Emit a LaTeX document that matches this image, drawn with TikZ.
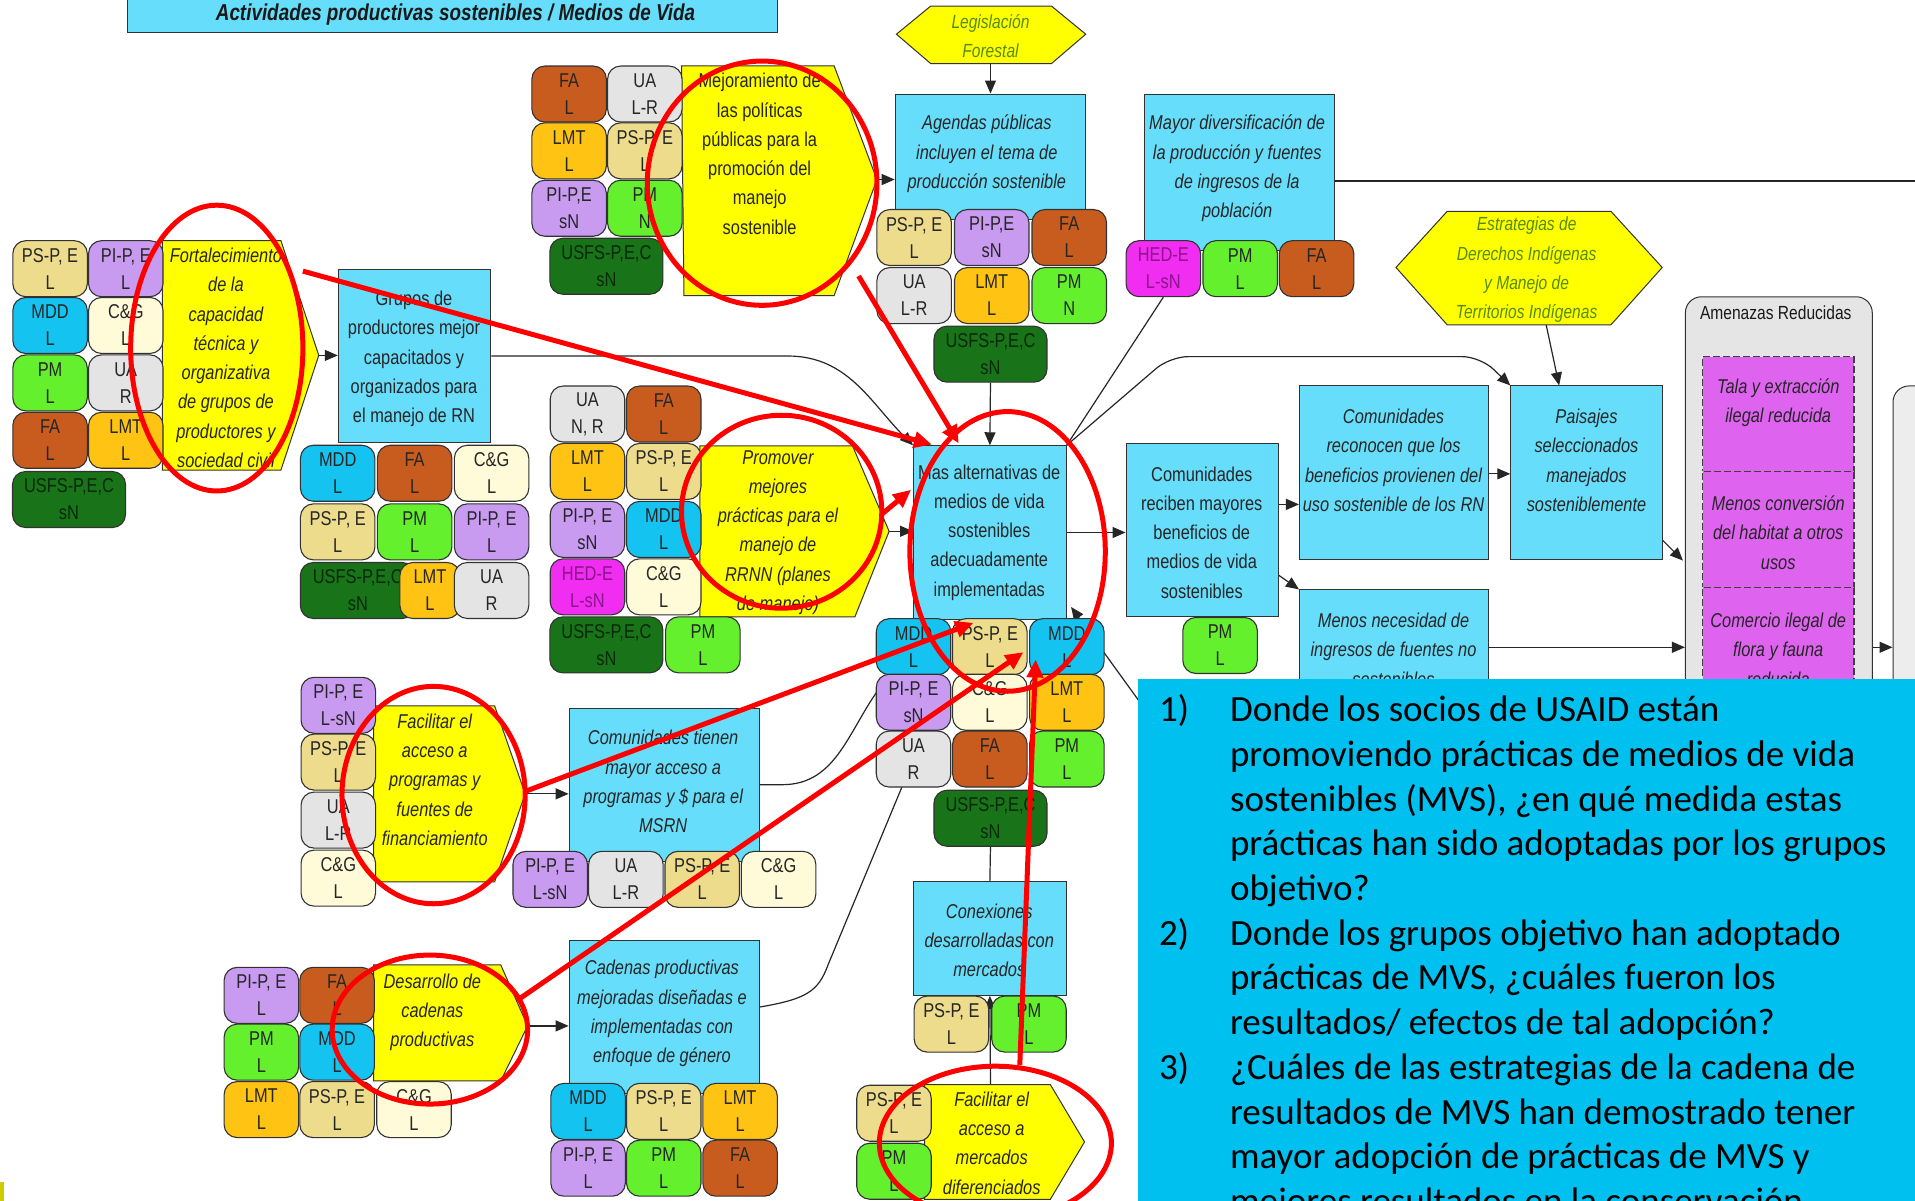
\documentclass[tikz,border=0pt]{standalone}
\usepackage{fontspec}
\setmainfont{Liberation Sans}
\newfontfamily\nar[FakeStretch=0.82]{Liberation Sans}
\newfontfamily\qfont{Carlito}
\usetikzlibrary{arrows.meta,calc,shapes.geometric}
\definecolor{boxblue}{RGB}{102,221,250}
\definecolor{qblue}{RGB}{0,192,240}
\definecolor{cPS}{RGB}{236,220,140}
\definecolor{cPI}{RGB}{200,155,240}
\definecolor{cMDD}{RGB}{20,195,240}
\definecolor{cCG}{RGB}{255,250,215}
\definecolor{cPM}{RGB}{100,240,45}
\definecolor{cUA}{RGB}{228,228,228}
\definecolor{cFA}{RGB}{200,92,30}
\definecolor{cLMT}{RGB}{255,195,20}
\definecolor{cUSFS}{RGB}{25,115,25}
\definecolor{cUSFSt}{RGB}{10,40,10}
\definecolor{cHED}{RGB}{240,45,240}
\definecolor{cHEDt}{RGB}{140,20,140}
\definecolor{cYel}{RGB}{255,255,0}
\definecolor{cGreenTxt}{RGB}{85,140,10}
\definecolor{cPurp}{RGB}{222,100,240}
\definecolor{cGray}{RGB}{229,229,229}
\definecolor{cRed}{RGB}{255,0,0}
\definecolor{edge}{RGB}{50,50,50}
\pgfdeclarelayer{bg}
\pgfdeclarelayer{redl}
\pgfdeclarelayer{top}
\pgfsetlayers{bg,main,redl,top}
\tikzset{
 tagn/.style={draw=edge, line width=1.1pt, rounded corners=13pt, minimum width=74.5pt, minimum height=56pt, inner sep=0pt, align=center, font=\nar\fontsize{20}{27}\selectfont, text=black!85},
 wide/.style={minimum width=113pt},
 box/.style={draw=edge, line width=1pt, fill=boxblue, inner sep=0pt},
 btxt/.style={align=center, font=\nar\itshape\fontsize{20}{29.3}\selectfont, text=black!85, inner sep=0pt},
 rtxt/.style={align=center, font=\nar\fontsize{20}{29.3}\selectfont, text=black!85, inner sep=0pt},
 pent/.style={draw=edge, line width=1pt, fill=cYel},
 hexs/.style={draw=edge, line width=1pt, fill=cYel},
 htxt/.style={align=center, inner sep=0pt, text=cGreenTxt, font=\nar\itshape\fontsize{19}{29.3}\selectfont},
 conn/.style={draw=black!85, line width=1.2pt},
 arr/.style={conn, -{Triangle[length=13pt,width=11pt]}},
 redell/.style={draw=cRed, line width=5pt, ellipse, inner sep=0pt},
 reda/.style={draw=cRed, line width=5pt, -{Triangle[length=18pt,width=16pt]}},
 qtxt/.style={font=\qfont\fontsize{37}{44.6}\selectfont, inner sep=0pt, text=black, anchor=base west},
}
\newcommand\bx[6][]{\node[box,#1,minimum width={(#5-(#3))*1.2213pt},minimum height={(#6-(#4))*1.2213pt}] (#2) at ({(#3+#5)/2},{(#4+#6)/2}) {};}
\newcommand\tg[6][]{\node[tagn,fill=#5,#1] (#2) at (#3,#4) {#6};}
\begin{document}
\begin{tikzpicture}[x=1.2213pt,y=-1.2213pt]
\useasboundingbox (0,0) rectangle (1568,983);
\begin{pgfonlayer}{bg}
\fill[white] (0,0) rectangle (1568,983);
\end{pgfonlayer}
\fill[cYel!80!black] (0,968) rectangle (3,983);
% ---------- title
\bx{title}{104}{-10}{637}{27}
\node[font=\nar\bfseries\itshape\fontsize{23}{28}\selectfont, text=black!90, inner sep=0pt] (titlet) at (373,12) {Actividades productivas sostenibles / Medios de Vida};
% ---------- Legislacion
\draw[hexs] (734,28) -- (762,5) -- (861,5) -- (889,28) -- (861,52) -- (762,52) -- cycle;
\node[htxt] (legist) at (811,29.5) {Legislación\\Forestal};
\coordinate (legisb) at (811,52);
% ---------- Agendas
\bx{agendas}{733}{77}{889}{180}
\node[btxt] (agendast) at (808,126) {Agendas públicas\\incluyen el tema de\\producción sostenible};
% ---------- Mejoramiento
\draw[pent] (558,54) -- (683,54) -- (718,147) -- (683,242) -- (560,242) -- cycle;
\node[rtxt] (mejt) at (622,126) {Mejoramiento de\\las políticas\\públicas para la\\promoción del\\manejo\\sostenible};
\coordinate (mejtip) at (718,147);
% ---------- Mayor
\bx{mayor}{937}{77}{1093}{205}
\node[btxt] (mayort) at (1013,138) {Mayor diversificación de\\la producción y fuentes\\de ingresos de la\\población};
\coordinate (mayr) at (1580,148);
% ---------- Estrategias
\draw[hexs] (1143,219) -- (1185,173) -- (1319,173) -- (1361,219) -- (1319,266) -- (1185,266) -- cycle;
\node[htxt] (estt) at (1250,221) {Estrategias de\\Derechos Indígenas\\y Manejo de\\Territorios Indígenas};
\coordinate (estb) at (1266,266);
% ---------- Fortalecimiento
\draw[pent] (133,197) -- (230,197) -- (261,291) -- (230,385) -- (133,385) -- cycle;
\node[btxt] (fortt) at (185,293) {Fortalecimiento\\de la\\capacidad\\técnica y\\organizativa\\de grupos de\\productores y\\sociedad civil};
\coordinate (forttip) at (261,291);
% ---------- Grupos
\bx{grupos}{277}{221}{402}{362}
\node[rtxt] (grupost) at (339,294) {Grupos de\\productores mejor\\capacitados y\\organizados para\\el manejo de RN};
% ---------- Promover
\draw[pent] (573,365) -- (698,365) -- (728,435) -- (700,505) -- (573,505) -- cycle;
\node[btxt] (promt) at (637,436) {Promover\\mejores\\prácticas para el\\manejo de\\RRNN (planes\\de manejo)};
\coordinate (promtip) at (728,435);
% ---------- Mas alternativas
\bx{mas}{748}{365}{873}{507}
\node[rtxt] (mast) at (810,436) {Mas alternativas de\\medios de vida\\sostenibles\\adecuadamente\\implementadas};
% ---------- Comunidades reciben
\bx{reciben}{922}{363}{1047}{505}
\node[rtxt] (recibent) at (984,436) {Comunidades\\reciben mayores\\beneficios de\\medios de vida\\sostenibles};
% ---------- reconocen
\bx{reconocen}{1064}{316}{1219}{458}
\node[btxt] (reconocent) at (1141,377) {Comunidades\\reconocen que los\\beneficios provienen del\\uso sostenible de los RN};
% ---------- Paisajes
\bx{paisajes}{1237}{316}{1361}{458}
\node[btxt] (paisajest) at (1299,377) {Paisajes\\seleccionados\\manejados\\sosteniblemente};
% ---------- Menos necesidad
\bx{menos}{1064}{483}{1219}{700}
\node[btxt] (menost) at (1141,532) {Menos necesidad de\\ingresos de fuentes no\\sostenibles};
% ---------- Amenazas
\bx[fill=cGray, rounded corners=16pt]{amen}{1380}{243}{1533}{1010}
\node[rtxt, font=\nar\fontsize{19}{29.3}\selectfont, text=black!90] (ament) at (1454,256) {Amenazas Reducidas};
\bx[fill=cPurp, draw=black!75, dash pattern=on 7pt off 3pt, line width=1.4pt]{th1}{1394}{292}{1518}{386}
\bx[fill=cPurp, draw=black!75, dash pattern=on 7pt off 3pt, line width=1.4pt]{th2}{1394}{386}{1518}{481}
\bx[fill=cPurp, draw=black!75, dash pattern=on 7pt off 3pt, line width=1.4pt]{th3}{1394}{481}{1518}{1010}
\node[btxt] (th1t) at (1456,329.5) {Tala y extracción\\ilegal reducida};
\node[btxt] (th2t) at (1456,436) {Menos conversión\\del habitat a otros\\usos};
\node[btxt] (th3t) at (1456,532) {Comercio ilegal de\\flora y fauna\\reducida};
\bx[fill=white!93!black, rounded corners=16pt]{rightc}{1550}{316}{1650}{1010}
% ---------- Financiamiento
\draw[pent] (306,578) -- (405,578) -- (430,650) -- (405,722) -- (306,722) -- cycle;
\node[btxt] (fint) at (356,638.5) {Facilitar el\\acceso a\\programas y\\fuentes de\\financiamiento};
\coordinate (fintip) at (430,650);
\bx{tienen}{466}{580}{622}{705}
\node[btxt] (tienent) at (543,640) {Comunidades tienen\\mayor acceso a\\programas y \$ para el\\MSRN};
% ---------- Desarrollo / Cadenas
\draw[pent] (306,790) -- (410,790) -- (432,840) -- (410,885) -- (306,885) -- cycle;
\node[btxt] (dest) at (354,829) {Desarrollo de\\cadenas\\productivas};
\coordinate (destip) at (432,840);
\bx{cadenas}{466}{770}{622}{895}
\node[btxt] (cadenast) at (542,830) {Cadenas productivas\\mejoradas diseñadas e\\implementadas con\\enfoque de género};
% ---------- Conexiones / mercados
\bx{conex}{748}{722}{873}{815}
\node[btxt] (conext) at (810,770) {Conexiones\\desarrolladas con\\mercados};
\draw[pent] (757,888) -- (860,888) -- (888,935) -- (860,982) -- (757,982) -- cycle;
\node[btxt] (mert) at (812,936) {Facilitar el\\acceso a\\mercados\\diferenciados};
\coordinate (mertop) at (811,888);
% ---------- tags
\tg{f1}{41}{220}{cPS}{PS-P, E\\L}
\tg{f2}{103}{220}{cPI}{PI-P, E\\L}
\tg{f3}{41}{266.5}{cMDD}{MDD\\L}
\tg{f4}{103}{266.5}{cCG}{C\&G\\L}
\tg{f5}{41}{313.5}{cPM}{PM\\L}
\tg{f6}{103}{313.5}{cUA}{UA\\R}
\tg{f7}{41}{360.5}{cFA}{FA\\L}
\tg{f8}{103}{360.5}{cLMT}{LMT\\L}
\tg[wide,text=cUSFSt]{f9}{56.5}{409}{cUSFS}{USFS-P,E,C\\sN}
\tg{m1}{466}{77}{cFA}{FA\\L}
\tg{m2}{528}{77}{cUA}{UA\\L-R}
\tg{m3}{466}{123.5}{cLMT}{LMT\\L}
\tg{m4}{528}{123.5}{cPS}{PS-P, E\\L}
\tg{m5}{466}{170.5}{cPI}{PI-P,E\\sN}
\tg{m6}{528}{170.5}{cPM}{PM\\N}
\tg[wide,text=cUSFSt]{m7}{496.5}{218}{cUSFS}{USFS-P,E,C\\sN}
\tg{a1}{748.5}{194.5}{cPS}{PS-P, E\\L}
\tg{a2}{812}{194.5}{cPI}{PI-P,E\\sN}
\tg{a3}{875.5}{194.5}{cFA}{FA\\L}
\tg{a4}{748.5}{242}{cUA}{UA\\L-R}
\tg{a5}{812}{242}{cLMT}{LMT\\L}
\tg{a6}{875.5}{242}{cPM}{PM\\N}
\tg[wide,text=cUSFSt]{a7}{811}{290}{cUSFS}{USFS-P,E,C\\sN}
\tg[text=cHEDt]{d1}{952.5}{220}{cHED}{HED-E\\L-sN}
\tg{d2}{1015.5}{220}{cPM}{PM\\L}
\tg{d3}{1078}{220}{cFA}{FA\\L}
\tg{g1}{276.5}{387.5}{cMDD}{MDD\\L}
\tg{g2}{339.5}{387.5}{cFA}{FA\\L}
\tg{g3}{402.5}{387.5}{cCG}{C\&G\\L}
\tg{g4}{276.5}{435.5}{cPS}{PS-P, E\\L}
\tg{g5}{339.5}{435.5}{cPM}{PM\\L}
\tg{g6}{402.5}{435.5}{cPI}{PI-P, E\\L}
\tg[minimum width=115pt,text=cUSFSt]{g7}{293}{483.5}{cUSFS}{USFS-P,E,C\\sN}
\tg[minimum width=60pt]{g8}{352}{483.5}{cLMT}{LMT\\L}
\tg{g9}{402.5}{483.5}{cUA}{UA\\R}
\tg{p1}{481}{339}{cUA}{UA\\N, R}
\tg{p2}{543.5}{339}{cFA}{FA\\L}
\tg{p3}{481}{386}{cLMT}{LMT\\L}
\tg{p4}{543.5}{386}{cPS}{PS-P, E\\L}
\tg{p5}{481}{433.5}{cPI}{PI-P, E\\sN}
\tg{p6}{543.5}{433.5}{cMDD}{MDD\\L}
\tg[text=cHEDt]{p7}{481}{480.5}{cHED}{HED-E\\L-sN}
\tg{p8}{543.5}{480.5}{cCG}{C\&G\\L}
\tg[wide,text=cUSFSt]{p9}{496.5}{528}{cUSFS}{USFS-P,E,C\\sN}
\tg{p10}{575.5}{528}{cPM}{PM\\L}
\tg{x1}{748}{529.5}{cMDD}{MDD\\L}
\tg{x2}{810.5}{529.5}{cPS}{PS-P, E\\L}
\tg{x3}{873.5}{529.5}{cMDD}{MDD\\L}
\tg{x4}{748}{575}{cPI}{PI-P, E\\sN}
\tg{x5}{810.5}{575}{cCG}{C\&G\\L}
\tg{x6}{873.5}{575}{cLMT}{LMT\\L}
\tg{x7}{748}{621.5}{cUA}{UA\\R}
\tg{x8}{810.5}{621.5}{cFA}{FA\\L}
\tg{x9}{873.5}{621.5}{cPM}{PM\\L}
\tg[wide,text=cUSFSt]{x10}{811}{670}{cUSFS}{USFS-P,E,C\\sN}
\tg{r1}{999}{528.5}{cPM}{PM\\L}
\tg{n1}{277}{577.5}{cPI}{PI-P, E\\L-sN}
\tg{n2}{277}{624}{cPS}{PS-P, E\\L}
\tg{n3}{277}{671.5}{cUA}{UA\\L-R}
\tg{n4}{277}{719}{cCG}{C\&G\\L}
\tg{t1}{450.5}{720}{cPI}{PI-P, E\\L-sN}
\tg{t2}{512.5}{720}{cUA}{UA\\L-R}
\tg{t3}{575}{720}{cPS}{PS-P, E\\L}
\tg{t4}{637.5}{720}{cCG}{C\&G\\L}
\tg{c1}{214}{815}{cPI}{PI-P, E\\L}
\tg{c2}{276}{815}{cFA}{FA\\L}
\tg{c3}{214}{861.5}{cPM}{PM\\L}
\tg{c4}{276}{861.5}{cMDD}{MDD\\L}
\tg{c5}{214}{908.5}{cLMT}{LMT\\L}
\tg{c6}{276}{908.5}{cPS}{PS-P, E\\L}
\tg{c7}{339}{908.5}{cCG}{C\&G\\L}
\tg{e1}{481.5}{910}{cMDD}{MDD\\L}
\tg{e2}{543.5}{910}{cPS}{PS-P, E\\L}
\tg{e3}{606}{910}{cLMT}{LMT\\L}
\tg{e4}{481.5}{956.5}{cPI}{PI-P, E\\L}
\tg{e5}{543.5}{956.5}{cPM}{PM\\L}
\tg{e6}{606}{956.5}{cFA}{FA\\L}
\tg{k1}{779}{838.5}{cPS}{PS-P, E\\L}
\tg{k2}{842.5}{838.5}{cPM}{PM\\L}
\tg{q1}{732}{911.5}{cPS}{PS-P, E\\L}
\tg{q2}{732}{959}{cPM}{PM\\L}
% ---------- free-end coordinates
\coordinate (rc1) at (1047,413);
\coordinate (rc2) at (1047,471);
\coordinate (rc3) at (1219,388);
\coordinate (pa1) at (1361,442);
\coordinate (am1) at (1378,459);
\coordinate (mn1) at (1219,530);
\coordinate (am2) at (1533,530);
\coordinate (hid1) at (950,598);
\coordinate (tip1) at (877,497);
% ---------- connectors
\begin{pgfonlayer}{bg}
\draw[arr] (legisb) -- (agendas.north);
\draw[arr] (mejtip) -- (agendas.west |- mejtip);
\draw[arr] (a7.south) -- (mas.north);
\draw[conn, line width=2pt] (mayor.east |- mayr) -- (mayr);
\draw[arr] (forttip) -- (grupos.west |- forttip);
\draw[arr] (grupos.east) -- (645,291.5) to[out=0,in=135] (mas.north west);
\draw[arr] (promtip) -- (mas.west |- promtip);
\draw[arr] (mas.east) -- (reciben.west |- mas.east);
\draw[conn] (mas.north east) -- (d1.south);
\draw[arr, rounded corners=18pt] (mas.north east) -- (958,292) -- (1212,292) -- (paisajes.north west);
\draw[arr] (estb) -- ($(paisajes.north west)+(40,0)$);
\draw[arr] (rc1) -- (reconocen.west |- rc1);
\draw[arr] (rc2) -- (menos.north west);
\draw[arr] (rc3) -- (paisajes.west |- rc3);
\draw[arr] (pa1) -- (am1);
\draw[arr] (mn1) -- (amen.west |- mn1);
\draw[arr] (am2) -- (rightc.west |- am2);
\draw[arr] (fintip) -- (tienen.west |- fintip);
\draw[conn] (tienen.east) -- ++(18,0) to[out=0,in=232] ($(x4.north west)+(6,8)$);
\draw[conn] ($(cadenas.east)+(0,-8)$) .. controls (660,818) and (670,812) .. (678,790) -- (x7.center);
\draw[arr] (destip) -- (cadenas.west |- destip);
\draw[conn] (x10.south) -- (conex.north);
\draw[arr] (mertop) -- (conex.south);
\draw[arr] (hid1) -- (tip1);
\end{pgfonlayer}
% ---------- red annotations
\begin{pgfonlayer}{redl}
\node[redell, minimum width={141*1.2213pt}, minimum height={234*1.2213pt}] (el1) at (177.5,285) {};
\node[redell, minimum width={188*1.2213pt}, minimum height={200*1.2213pt}] (el2) at (624,150) {};
\node[redell, minimum width={164*1.2213pt}, minimum height={158*1.2213pt}] (el3) at (640,419) {};
\node[redell, minimum width={160*1.2213pt}, minimum height={229*1.2213pt}] (el4) at (825,451.5) {};
\node[redell, minimum width={150*1.2213pt}, minimum height={178*1.2213pt}] (el5) at (355,651) {};
\node[redell, minimum width={160*1.2213pt}, minimum height={122*1.2213pt}] (el6) at (352,843) {};
\node[redell, minimum width={190*1.2213pt}, minimum height={126*1.2213pt}] (el7) at (815,936) {};
\coordinate (ra1) at (248,222); \coordinate (rb1) at (763,364);
\coordinate (ra2) at (703,226); \coordinate (rb2) at (785,363);
\coordinate (ra3) at (722,421); \coordinate (rb3) at (746,401);
\coordinate (ra4) at (430,648); \coordinate (rb4) at (797,510);
\coordinate (ra5) at (425,818); \coordinate (rb5) at (838,534);
\coordinate (ra6) at (835,872); \coordinate (rb6) at (848,540);
\draw[reda] (ra1) -- (rb1);
\draw[reda] (ra2) -- (rb2);
\draw[reda] (ra3) -- (rb3);
\draw[reda] (ra4) -- (rb4);
\draw[reda] (ra5) -- (rb5);
\draw[reda] (ra6) -- (rb6);
\end{pgfonlayer}
% ---------- question box
\begin{pgfonlayer}{top}
\bx[fill=qblue, draw=none]{qbox}{932}{556}{1580}{1000}
\node[qtxt] (qn1) at (949,591) {1)};
\node[qtxt] (ql1) at (1007,591) {Donde los socios de USAID están};
\node[qtxt] (ql2) at (1007,627.6) {promoviendo prácticas de medios de vida};
\node[qtxt] (ql3) at (1007,664.2) {sostenibles (MVS), ¿en qué medida estas};
\node[qtxt] (ql4) at (1007,700.8) {prácticas han sido adoptadas por los grupos};
\node[qtxt] (ql5) at (1007,737.4) {objetivo?};
\node[qtxt] (qn2) at (949,774) {2)};
\node[qtxt] (ql6) at (1007,774) {Donde los grupos objetivo han adoptado};
\node[qtxt] (ql7) at (1007,810.6) {prácticas de MVS, ¿cuáles fueron los};
\node[qtxt] (ql8) at (1007,847.2) {resultados/ efectos de tal adopción?};
\node[qtxt] (qn3) at (949,883.8) {3)};
\node[qtxt] (ql9) at (1007,883.8) {¿Cuáles de las estrategias de la cadena de};
\node[qtxt] (ql10) at (1007,920.4) {resultados de MVS han demostrado tener};
\node[qtxt] (ql11) at (1007,957) {mayor adopción de prácticas de MVS y};
\node[qtxt] (ql12) at (1007,993.6) {mejores resultados en la conservación};
\end{pgfonlayer}
\end{tikzpicture}
\end{document}
